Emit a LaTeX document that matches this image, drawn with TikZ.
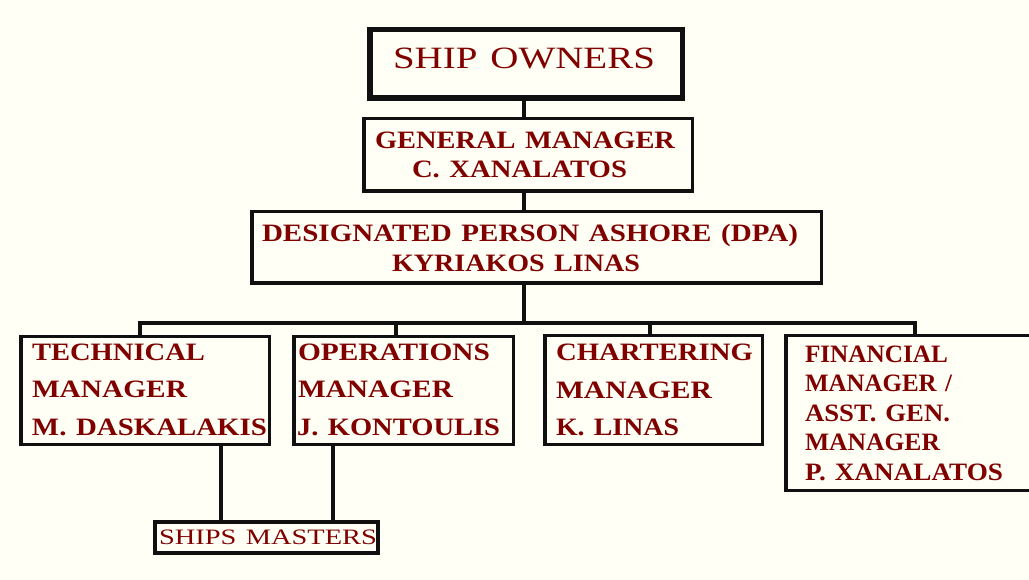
\documentclass[tikz,border=0pt]{standalone}
\usepackage{fontspec}
\setmainfont{Liberation Serif}
\usepackage{graphicx}
\setlength\parindent{0pt}
\definecolor{ink}{HTML}{800000}
\definecolor{paper}{HTML}{FFFFF6}
\definecolor{rule}{HTML}{101010}
% one text line: left offset, stretched width, text
\newcommand\tline[3]{\hspace*{#1}\resizebox{#2}{\height}{#3}}
\begin{document}
\begin{tikzpicture}[x=1pt,y=-1pt,
  orgbox/.style={draw=rule, fill=paper, line width=3.5pt, inner sep=0pt,
    outer sep=0pt, align=left, text=ink, rectangle},
  boldtext/.style={font=\fontsize{25}{#1}\selectfont\bfseries},
  link/.style={draw=rule, line width=3.5pt, line join=miter}]
\useasboundingbox (0,0) rectangle (1029,580);
\clip (0,0) rectangle (1029,580);
\fill[paper] (0,0) rectangle (1029,580);

% boxes
\node[orgbox, line width=5.5pt, minimum width=312.5pt, minimum height=68.5pt,
  text width=312.5pt, font=\fontsize{31}{36}\selectfont] (owners) at (526,64)
  {\tline{23.25pt}{262pt}{SHIP OWNERS}\rule[-12pt]{0pt}{12pt}};

\node[orgbox, boldtext=29.5, minimum width=328.5pt, minimum height=72.5pt,
  text width=328.5pt] (gm) at (528,155)
  {\tline{11.25pt}{300pt}{GENERAL MANAGER}\\
   \tline{48.25pt}{215pt}{C. XANALATOS}};

\node[orgbox, boldtext=30, minimum width=569.5pt, minimum height=71.5pt,
  text width=569.5pt] (dpa) at (536.5,247.5)
  {\tline{10.25pt}{536pt}{DESIGNATED PERSON ASHORE (DPA)}\\
   \tline{140.25pt}{248pt}{KYRIAKOS LINAS}};

\node[orgbox, boldtext=37.5, minimum width=248.5pt, minimum height=107.5pt,
  text width=248.5pt] (tech) at (145,390.5)
  {\tline{11.25pt}{173pt}{TECHNICAL}\\
   \tline{11.25pt}{155pt}{MANAGER}\\
   \tline{11.25pt}{235pt}{M. DASKALAKIS}\rule[-2pt]{0pt}{2pt}};

\node[orgbox, boldtext=37.5, minimum width=219.5pt, minimum height=107.5pt,
  text width=219.5pt] (ops) at (403.5,390.5)
  {\tline{4.25pt}{192pt}{OPERATIONS}\\
   \tline{4.25pt}{155pt}{MANAGER}\\
   \tline{3.25pt}{203pt}{J. KONTOULIS}\rule[-2pt]{0pt}{2pt}};

\node[orgbox, boldtext=37.5, minimum width=217.5pt, minimum height=108.5pt,
  text width=217.5pt] (chart) at (653.5,390)
  {\tline{11.25pt}{197pt}{CHARTERING}\\
   \tline{11.25pt}{156pt}{MANAGER}\\
   \tline{11.25pt}{123pt}{K. LINAS}};

\node[orgbox, boldtext=29.5, minimum width=250.25pt, minimum height=154.5pt,
  text width=250.25pt] (fin) at (910.875,413)
  {\tline{19.25pt}{143pt}{FINANCIAL}\\
   \tline{19.25pt}{147pt}{MANAGER /}\\
   \tline{19.25pt}{145pt}{ASST. GEN.}\\
   \tline{19.25pt}{135pt}{MANAGER}\\
   \tline{19.25pt}{198pt}{P. XANALATOS}};

\node[orgbox, line width=4pt, minimum width=223pt, minimum height=31pt,
  text width=223pt, font=\fontsize{22}{26}\selectfont] (masters) at (266.5,537.5)
  {\tline{4pt}{218pt}{SHIPS MASTERS}};

% connector positions
\coordinate (trunk) at (524,0);
\coordinate (bus) at (0,323);
\coordinate (xtech) at (140,0);
\coordinate (xops) at (396,0);
\coordinate (xchart) at (650,0);
\coordinate (xfin) at (915,0);
\coordinate (xm1) at (221,0);
\coordinate (xm2) at (333,0);

% connectors
\draw[link] (owners.south -| trunk) -- (gm.north -| trunk);
\draw[link] (gm.south -| trunk) -- (dpa.north -| trunk);
\draw[link] (dpa.south -| trunk) -- (trunk |- bus);
\draw[link] (tech.north -| xtech) -- (xtech |- bus) -- (xfin |- bus) -- (fin.north -| xfin);
\draw[link] (xops |- bus) -- (ops.north -| xops);
\draw[link] (xchart |- bus) -- (chart.north -| xchart);
\draw[link] (tech.south -| xm1) -- (masters.north -| xm1);
\draw[link] (ops.south -| xm2) -- (masters.north -| xm2);
\end{tikzpicture}
\end{document}
